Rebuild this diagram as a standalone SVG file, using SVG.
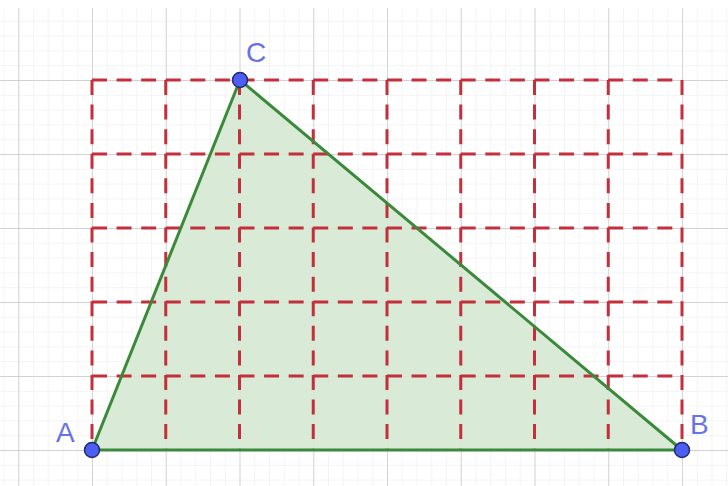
<svg xmlns="http://www.w3.org/2000/svg" width="728" height="486" viewBox="0 0 728 486">
  <defs>
    <pattern id="minor" patternUnits="userSpaceOnUse" x="18.25" y="6" width="14.75" height="14.8">
      <path d="M0 0V14.8M0 0H14.75" fill="none" stroke="#eaeaea" stroke-width="1"/>
    </pattern>
    <pattern id="major" patternUnits="userSpaceOnUse" x="18.25" y="6" width="73.75" height="74">
      <path d="M0 0V74M0 0H73.75" fill="none" stroke="#c8c8c8" stroke-width="1.4"/>
    </pattern>
  </defs>
  <style>
    .dash { fill: none; stroke: #c42f3c; stroke-width: 3; stroke-dasharray: 15 9.58; }
    .tri { fill: #d5e8d3; fill-opacity: 0.9; stroke: none; }
    .pt { fill: #4d5ff2; stroke: #1f2a6b; stroke-width: 1.5; }
    .lbl { font-family: "Liberation Sans", Arial, sans-serif; font-size: 28px; fill: #6672e6; }
  </style>
  <rect width="728" height="486" fill="#ffffff"/>
  <g id="grid">
    <rect x="0" y="8" width="728" height="478" fill="url(#minor)"/>
    <rect x="0" y="8" width="728" height="478" fill="url(#major)"/>
  </g>
  <g id="triangle">
    <polygon class="tri" points="92,450 682,450 240,80"/>
  </g>
  <g id="connectors">
    <path class="dash" d="M92 80H682M92 154H682M92 228H682M92 302H682M92 376H682"/>
    <path class="dash" d="M92 80V450M165.75 80V450M239.5 80V450M313.25 80V450M387 80V450M460.75 80V450M534.5 80V450M608.25 80V450M682 80V450"/>
    <path d="M92 450H682L240 80Z" fill="none" stroke="#3b8a3b" stroke-width="3" stroke-linejoin="round"/>
  </g>
  <g id="A">
    <circle class="pt" cx="92" cy="450" r="7.5"/>
    <text class="lbl" x="56" y="442">A</text>
  </g>
  <g id="B">
    <circle class="pt" cx="682" cy="450" r="7.5"/>
    <text class="lbl" x="690" y="434">B</text>
  </g>
  <g id="C">
    <circle class="pt" cx="240" cy="80" r="7.5"/>
    <text class="lbl" x="246" y="62">C</text>
  </g>
</svg>
